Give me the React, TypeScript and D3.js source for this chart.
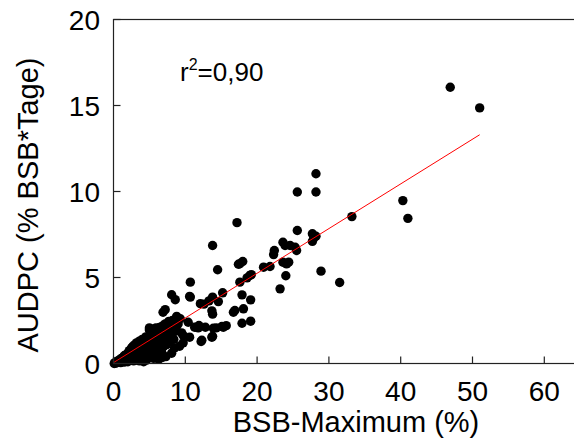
import React from "react";
import * as d3 from "d3";

const xTicks = [0, 10, 20, 30, 40, 50, 60];
const yTicks = [0, 5, 10, 15, 20];

// BSB-Maximum (%)
const pointsX = [
  0.1, 0.2, 0.3, 0.4, 0.5, 0.6, 0.7, 0.8, 0.9, 1.0, 1.0,
  1.1, 1.2, 1.3, 1.4, 1.5, 1.5, 1.6, 1.7, 1.8, 1.9, 2.0, 2.0,
  2.1, 2.2, 2.3, 2.4, 2.5, 2.5, 2.6, 2.7, 2.8, 2.8, 2.9, 3.0, 3.0,
  3.1, 3.2, 3.3, 3.4, 3.5, 3.5, 3.6, 3.7, 3.8, 3.9, 4.0, 4.0,
  4.1, 4.2, 4.3, 4.4, 4.5, 4.5, 4.6, 4.7, 4.8, 4.9, 5.0, 5.0,
  5.1, 5.2, 5.2, 5.3, 5.4, 5.5, 5.5, 5.6, 5.7, 5.8, 5.9, 6.0, 6.0,
  6.1, 6.2, 6.3, 6.4, 6.5, 6.5, 6.6, 6.7, 6.8, 6.9, 7.0, 7.0,
  7.1, 7.2, 7.3, 7.4, 7.5, 7.6, 7.7, 7.8, 7.9, 8.0, 8.0,
  8.2, 8.3, 8.4, 8.6, 8.7, 8.8, 9.0, 8.5,
  5.0, 5.9, 7.7, 6.9, 7.2, 8.1, 8.6, 8.8,
  9.3, 10.4, 11.3, 11.9, 12.8, 13.9, 15.1, 15.3,
  9.7, 10.6, 12.2, 13.7, 9.7, 9.5, 12.3, 13.8, 11.8, 14.3, 15.7,
  10.7, 10.6, 13.8, 14.6, 13.3, 12.6, 13.7, 13.8, 12.1,
  15.2, 17.9, 19.1, 18.1, 16.7, 16.9, 17.9, 19.1,
  19.0, 18.6, 19.2, 17.6, 17.6, 18.0, 17.4, 13.8, 14.5, 10.7,
  20.9, 21.8, 22.4, 22.3, 23.6, 23.9, 24.6, 25.3, 25.5,
  23.6, 24.4, 24.1, 24.0, 23.2, 28.9,
  25.6, 27.7, 27.9, 27.7, 28.2, 17.2,
  25.6, 28.2, 28.2, 33.2, 40.3, 41.0, 31.5, 46.9, 51.0,
  3.6, 4.6, 5.6, 6.3, 7.3, 8.1, 9.2, 4.2, 6.8,
];

// AUDPC (% BSB*Tage)
const pointsY = [
  0.0, 0.05, 0.02, 0.1, 0.05, 0.15, 0.08, 0.2, 0.1, 0.25, 0.05,
  0.3, 0.12, 0.35, 0.2, 0.45, 0.08, 0.3, 0.5, 0.15, 0.4, 0.6, 0.1,
  0.3, 0.75, 0.5, 0.2, 0.9, 0.6, 0.35, 1.0, 0.7, 0.15, 0.5, 1.1, 0.3,
  0.8, 1.2, 0.55, 1.0, 0.25, 0.75, 1.3, 0.45, 1.1, 0.9, 0.35, 1.4,
  0.65, 1.2, 0.3, 1.0, 1.55, 0.55, 0.85, 1.3, 0.45, 1.1, 1.95, 0.7,
  1.5, 0.35, 1.8, 1.0, 0.6, 1.7, 1.25, 2.0, 0.8, 1.5, 1.1, 1.9, 0.5,
  1.3, 1.7, 0.9, 2.1, 1.5, 1.1, 1.9, 0.7, 1.6, 2.2, 1.3, 1.0,
  1.8, 2.3, 1.5, 1.1, 2.0, 1.7, 2.4, 1.3, 1.9, 2.2, 1.6,
  2.5, 1.8, 1.4, 2.1, 2.6, 1.9, 2.3, 0.9,
  2.07, 2.07, 2.45, 2.98, 3.13, 4.0, 3.71, 2.74,
  2.6, 2.4, 2.11, 2.21, 2.11, 2.05, 2.15, 2.11,
  1.63, 1.53, 1.28, 1.53, 1.2, 1.78, 1.35, 1.58, 2.07, 2.07, 2.2,
  3.86, 3.9, 3.86, 3.6, 3.64, 3.45, 3.06, 2.87, 3.48,
  4.11, 3.99, 3.7, 3.18, 2.98, 3.08, 2.34, 2.46,
  5.12, 4.98, 5.17, 4.73, 5.8, 5.93, 5.77, 6.86, 5.45, 4.73,
  5.6, 5.64, 6.57, 6.33, 7.05, 6.86, 6.86, 6.76, 6.57,
  5.89, 5.89, 5.79, 5.1, 4.34, 5.37,
  7.73, 7.54, 7.3, 7.1, 7.4, 8.19,
  9.97, 9.97, 11.03, 8.54, 9.47, 8.44, 4.71, 16.06, 14.86,
  0.15, 0.2, 0.3, 0.25, 0.4, 0.6, 1.0, 0.1, 0.35,
];

// regression line end points
const fitX = [0, 51];
const fitY = [0.05, 13.3];

const W = 574;
const H = 439;
const FONT = "'Liberation Sans', Arial, Helvetica, sans-serif";

export default function App() {
  const x = d3.scaleLinear().domain([0, 70]).range([113.5, 113.5 + 70 * 7.18]);
  const y = d3.scaleLinear().domain([0, 20]).range([363.5, 19.5]);
  const line = d3
    .line<number>()
    .x((_, i) => x(fitX[i]))
    .y((d) => y(d));

  return (
    <svg
      width={W}
      height={H}
      style={{ position: "absolute", left: 0, top: 0, background: "#fff" }}
      fontFamily={FONT}
    >
      <rect x={0} y={0} width={W} height={H} fill="#fff" />
      {pointsX.map((px, i) => (
        <circle key={i} cx={x(px)} cy={y(pointsY[i])} r={4.7} fill="#000" />
      ))}
      <path d={line(fitY) || ""} stroke="#ff0000" strokeWidth={1} fill="none" />
      <rect
        x={x(0)}
        y={y(20)}
        width={x(70) - x(0)}
        height={y(0) - y(20)}
        fill="none"
        stroke="#222"
        strokeWidth={1.2}
      />
      {xTicks.map((t) => (
        <g key={"x" + t}>
          <line x1={x(t)} x2={x(t)} y1={y(0)} y2={y(0) - 7} stroke="#222" strokeWidth={1.2} />
          <text x={x(t)} y={401} textAnchor="middle" fontSize={28} fill="#000">
            {t}
          </text>
        </g>
      ))}
      {yTicks.map((t) => (
        <g key={"y" + t}>
          <line x1={x(0)} x2={x(0) + 7} y1={y(t)} y2={y(t)} stroke="#222" strokeWidth={1.2} />
          <text x={100} y={y(t) + 10} textAnchor="end" fontSize={28} fill="#000">
            {t}
          </text>
        </g>
      ))}
      <text x={356} y={432} textAnchor="middle" fontSize={29} fill="#000">
        BSB-Maximum (%)
      </text>
      <text
        transform={`translate(38,205) rotate(-90)`}
        textAnchor="middle"
        fontSize={29}
        fill="#000"
      >
        AUDPC (% BSB*Tage)
      </text>
      <text x={180} y={81} fontSize={26} fill="#000">
        r
        <tspan fontSize={16} dy={-11}>2</tspan>
        <tspan dy={11}>=0,90</tspan>
      </text>
    </svg>
  );
}
